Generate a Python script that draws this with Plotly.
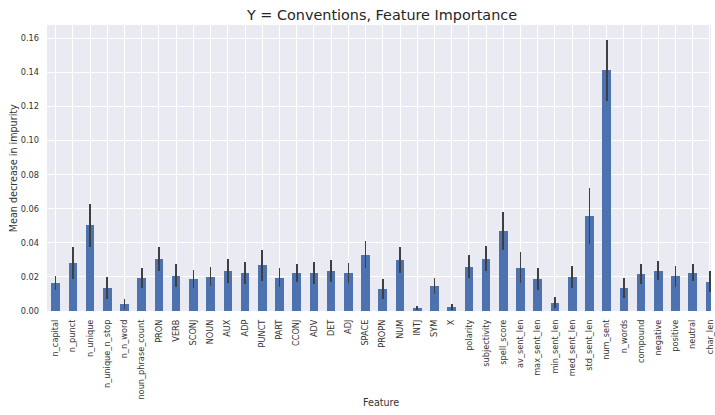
import plotly.graph_objects as go

# Random-forest feature importances (mean decrease in impurity) and their std across trees
features = [
    "n_capital", "n_punct", "n_unique", "n_unique_n_stop", "n_n_word",
    "noun_phrase_count", "PRON", "VERB", "SCONJ", "NOUN", "AUX", "ADP",
    "PUNCT", "PART", "CCONJ", "ADV", "DET", "ADJ", "SPACE", "PROPN", "NUM",
    "INTJ", "SYM", "X", "polarity", "subjectivity", "spell_score",
    "av_sent_len", "max_sent_len", "min_sent_len", "med_sent_len",
    "std_sent_len", "num_sent", "n_words", "compound", "negative",
    "positive", "neutral", "char_len",
]
importance = [
    0.0166, 0.0282, 0.0502, 0.0136, 0.0042,
    0.0195, 0.0305, 0.0208, 0.0187, 0.0202, 0.0237, 0.0221,
    0.0268, 0.0194, 0.0223, 0.0223, 0.0235, 0.0223, 0.0330, 0.0128, 0.0301,
    0.0017, 0.0149, 0.0026, 0.0260, 0.0307, 0.0467,
    0.0254, 0.0188, 0.0048, 0.0200,
    0.0558, 0.1412, 0.0136, 0.0218, 0.0237,
    0.0204, 0.0225, 0.0171,
]
importance_std = [
    0.0042, 0.0092, 0.0127, 0.0064, 0.0029,
    0.0060, 0.0069, 0.0070, 0.0053, 0.0058, 0.0070, 0.0064,
    0.0090, 0.0056, 0.0054, 0.0063, 0.0064, 0.0058, 0.0078, 0.0058, 0.0077,
    0.0014, 0.0047, 0.0018, 0.0066, 0.0075, 0.0111,
    0.0090, 0.0064, 0.0033, 0.0064,
    0.0164, 0.0179, 0.0060, 0.0057, 0.0055,
    0.0062, 0.0051, 0.0062,
]
y_ticks = [0.0, 0.02, 0.04, 0.06, 0.08, 0.10, 0.12, 0.14, 0.16]

positions = list(range(len(features)))
text_color = "#333333"
font_family = "DejaVu Sans"

fig = go.Figure(
    go.Bar(
        x=positions,
        y=importance,
        width=0.5,
        marker=dict(color="#4C72B0", line=dict(width=0)),
        error_y=dict(
            type="data",
            array=importance_std,
            visible=True,
            color="#3f3f3f",
            thickness=1.7,
            width=0,
        ),
    )
)

L, R, T, B = 47, 0, 25, 103.5
W, H = 715, 415
plot_w = W - L - R
plot_h = H - T - B

fig.update_layout(
    width=W,
    height=H,
    margin=dict(l=L, r=R, t=T, b=B, pad=0),
    paper_bgcolor="white",
    plot_bgcolor="#EAEAF2",
    font=dict(family=font_family, color=text_color),
    showlegend=False,
    bargap=0,
    title=dict(
        text="Y = Conventions, Feature Importance",
        font=dict(size=14.4, color="#262626", family=font_family),
        x=(384 - L) / plot_w,
        xref="paper",
        xanchor="center",
        y=1 - 15 / H,
        yref="container",
        yanchor="middle",
    ),
    xaxis=dict(
        range=[-0.5, 38.06],
        tickmode="array",
        tickvals=positions,
        ticktext=features,
        tickangle=-90,
        tickfont=dict(size=8.2, color=text_color),
        ticks="",
        ticklabelstandoff=6,
        ticklabeloverflow="allow",
        showgrid=True,
        gridcolor="white",
        gridwidth=1,
        zeroline=False,
        showline=False,
    ),
    yaxis=dict(
        range=[0, 0.1678],
        tickmode="array",
        tickvals=y_ticks,
        ticktext=[f"{v:.2f}" for v in y_ticks],
        tickfont=dict(size=8.2, color=text_color),
        ticks="",
        ticklabelstandoff=7,
        showgrid=True,
        gridcolor="white",
        gridwidth=1,
        zeroline=False,
        showline=False,
    ),
    annotations=[
        dict(
            text="Mean decrease in impurity",
            xref="paper", yref="paper",
            x=(13 - L) / plot_w, y=0.5,
            xanchor="center", yanchor="middle",
            textangle=-90, showarrow=False,
            font=dict(size=9.6, color=text_color),
        ),
        dict(
            text="Feature",
            xref="paper", yref="paper",
            x=(383 - L) / plot_w, y=(T + plot_h - 403) / plot_h,
            xanchor="center", yanchor="middle",
            showarrow=False,
            font=dict(size=9.6, color=text_color),
        ),
    ],
)

fig.write_html("out.html")
